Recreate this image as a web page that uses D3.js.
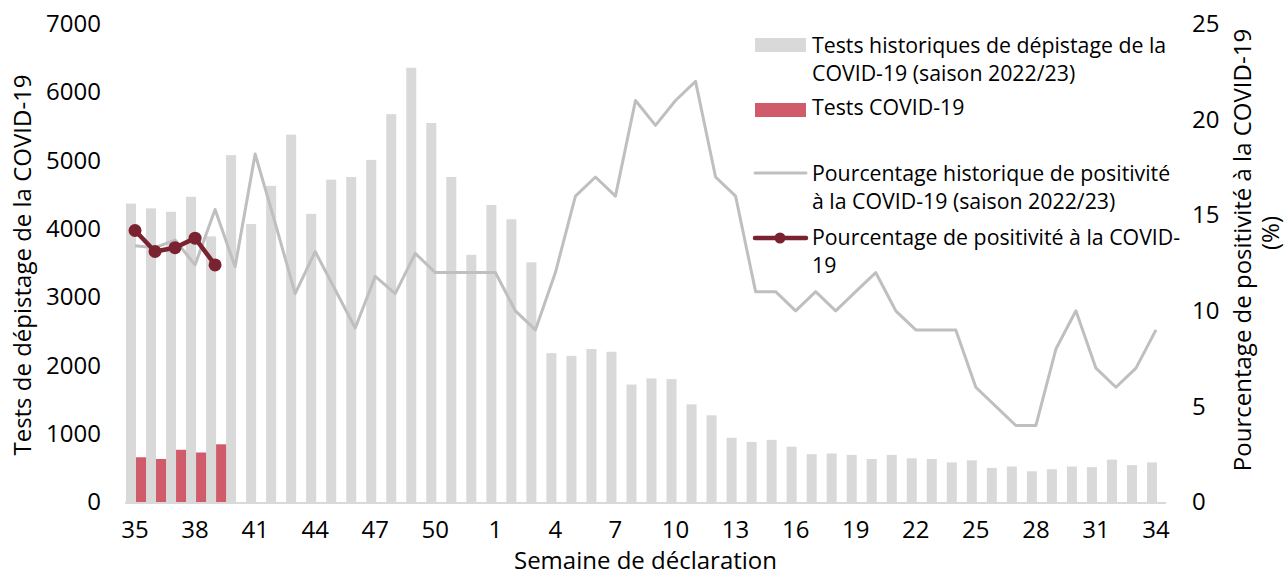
<!DOCTYPE html>
<html>
<head>
<meta charset="utf-8">
<script src="https://cdn.jsdelivr.net/npm/d3@7"></script>
<style>
  body { margin: 0; background: #fff; }
  svg text { font-family: "Open Sans", sans-serif; fill: #000; }
</style>
</head>
<body>
<svg id="chart" width="1288" height="575"></svg>
<script>
// semaines de déclaration (saison 35 -> 34)
var weeks = [35,36,37,38,39,40,41,42,43,44,45,46,47,48,49,50,51,52,
  1,2,3,4,5,6,7,8,9,10,11,12,13,14,15,16,17,18,19,20,21,22,23,24,25,26,27,28,29,30,31,32,33,34];
// tests historiques (saison 2022/23)
var histTests = [4370,4300,4250,4470,3890,5080,4070,4630,5380,4220,4720,4760,5010,5680,6360,5550,4760,3620,
  4350,4140,3510,2180,2140,2240,2200,1720,1810,1800,1430,1270,940,880,910,810,700,710,690,630,690,640,630,580,610,500,520,450,480,520,510,620,540,580];
// tests COVID-19 saison courante
var curTests = [655,630,765,725,845];
// pourcentage historique de positivité
var histPct = [13.4,13.3,13.7,12.4,15.3,12.3,18.2,14.6,10.9,13.1,11.1,9.1,11.8,10.9,13.0,12,12,12,
  12,10,9,12,16,17,16,21,19.7,21,22,17,16,11,11,10,11,10,11,12,10,9,9,9,6,5,4,4,8,10,7,6,7,9];
// pourcentage de positivité courant
var curPct = [14.2,13.1,13.3,13.8,12.4];
var leftTicks = [0,1000,2000,3000,4000,5000,6000,7000];
var rightTicks = [0,5,10,15,20,25];
var xTickWeeks = [35,38,41,44,47,50,1,4,7,10,13,16,19,22,25,28,31,34];

var svg = d3.select("#chart");
var mLeft = 125, mRight = 1166, mTop = 24, mBottom = 502;
var fs = 24;   // taille des étiquettes d'axes
var lfs = 21.3; // taille de la légende

var x = d3.scaleBand().domain(weeks).range([mLeft, mRight]).padding(0);
var bw = x.bandwidth();
var xs = d3.scaleBand().domain(["hist","cur"]).range([0, bw]).padding(0);
var yL = d3.scaleLinear().domain([0,7000]).range([mBottom, mTop]);
var yR = d3.scaleLinear().domain([0,25]).range([mBottom, mTop]);

// barres historiques
svg.append("g").selectAll("rect")
  .data(histTests)
  .enter().append("rect")
  .attr("x", function(d, i) { return x(weeks[i]) + xs("hist") + 1; })
  .attr("y", function(d) { return yL(d); })
  .attr("width", xs.bandwidth())
  .attr("height", function(d) { return mBottom - yL(d); })
  .attr("fill", "#d9d9d9");

// barres courantes
svg.append("g").selectAll("rect")
  .data(curTests)
  .enter().append("rect")
  .attr("x", function(d, i) { return x(weeks[i]) + xs("cur") + 1; })
  .attr("y", function(d) { return yL(d); })
  .attr("width", xs.bandwidth())
  .attr("height", function(d) { return mBottom - yL(d); })
  .attr("fill", "#d05b6a");

// ligne de base
svg.append("line")
  .attr("x1", mLeft).attr("x2", mRight)
  .attr("y1", mBottom + 1).attr("y2", mBottom + 1)
  .attr("stroke", "#d9d9d9").attr("stroke-width", 2);

var line = d3.line()
  .x(function(d, i) { return x(weeks[i]) + bw / 2; })
  .y(function(d) { return yR(d); });

svg.append("path")
  .datum(histPct)
  .attr("d", line)
  .attr("fill", "none")
  .attr("stroke", "#bfbfbf")
  .attr("stroke-width", 3)
  .attr("stroke-linejoin", "round");

svg.append("path")
  .datum(curPct)
  .attr("d", line)
  .attr("fill", "none")
  .attr("stroke", "#7b2230")
  .attr("stroke-width", 4.5)
  .attr("stroke-linejoin", "round");

svg.append("g").selectAll("circle")
  .data(curPct)
  .enter().append("circle")
  .attr("cx", function(d, i) { return x(weeks[i]) + bw / 2; })
  .attr("cy", function(d) { return yR(d); })
  .attr("r", 6.5)
  .attr("fill", "#7b2230");

// axes
var axL = d3.axisLeft(yL).tickValues(leftTicks).tickFormat(d3.format("d")).tickSize(0).tickPadding(0);
var gL = svg.append("g").attr("transform", "translate(101,0)").call(axL);
var axR = d3.axisRight(yR).tickValues(rightTicks).tickFormat(d3.format("d")).tickSize(0).tickPadding(0);
var gR = svg.append("g").attr("transform", "translate(1192,0)").call(axR);
var axB = d3.axisBottom(x).tickValues(xTickWeeks).tickSize(0).tickPadding(0);
var gB = svg.append("g").attr("transform", "translate(0,521)").call(axB);
[gL, gR, gB].forEach(function(g) {
  g.select(".domain").remove();
  g.selectAll("text").style("font-size", fs + "px").attr("fill", "#000");
});

svg.append("text")
  .attr("x", (mLeft + mRight) / 2).attr("y", 569)
  .attr("text-anchor", "middle")
  .style("font-size", fs + "px")
  .text("Semaine de déclaration");

svg.append("text")
  .attr("transform", "translate(31,265) rotate(-90)")
  .attr("text-anchor", "middle")
  .style("font-size", fs + "px")
  .text("Tests de dépistage de la COVID-19");

var rt = svg.append("text")
  .attr("transform", "translate(1251,250) rotate(-90)")
  .attr("text-anchor", "middle")
  .style("font-size", fs + "px");
rt.append("tspan").attr("x", 0).attr("dy", 0).text("Pourcentage de positivité à la COVID-19");
rt.append("tspan").attr("x", 17).attr("dy", 28).text("(%)");

// légende
var lx = 755, tx = 812;
var legend = svg.append("g");
legend.append("rect").attr("x", lx).attr("y", 38).attr("width", 51).attr("height", 14).attr("fill", "#d9d9d9");
legend.append("rect").attr("x", lx).attr("y", 103).attr("width", 51).attr("height", 14).attr("fill", "#d05b6a");
legend.append("line").attr("x1", lx).attr("x2", 806).attr("y1", 173).attr("y2", 173)
  .attr("stroke", "#bfbfbf").attr("stroke-width", 3).attr("stroke-linecap", "round");
legend.append("line").attr("x1", lx).attr("x2", 806).attr("y1", 238).attr("y2", 238)
  .attr("stroke", "#7b2230").attr("stroke-width", 4.5).attr("stroke-linecap", "round");
legend.append("circle").attr("cx", 780).attr("cy", 238).attr("r", 5.5).attr("fill", "#7b2230");

var legendLines = [
  ["Tests historiques de dépistage de la", 53],
  ["COVID-19 (saison 2022/23)", 81],
  ["Tests COVID-19", 115],
  ["Pourcentage historique de positivité", 181],
  ["à la COVID-19 (saison 2022/23)", 209],
  ["Pourcentage de positivité à la COVID-", 245],
  ["19", 273]
];
legend.selectAll("text.lg")
  .data(legendLines)
  .enter().append("text")
  .attr("class", "lg")
  .attr("x", tx)
  .attr("y", function(d) { return d[1]; })
  .style("font-size", lfs + "px")
  .text(function(d) { return d[0]; });
</script>
</body>
</html>
